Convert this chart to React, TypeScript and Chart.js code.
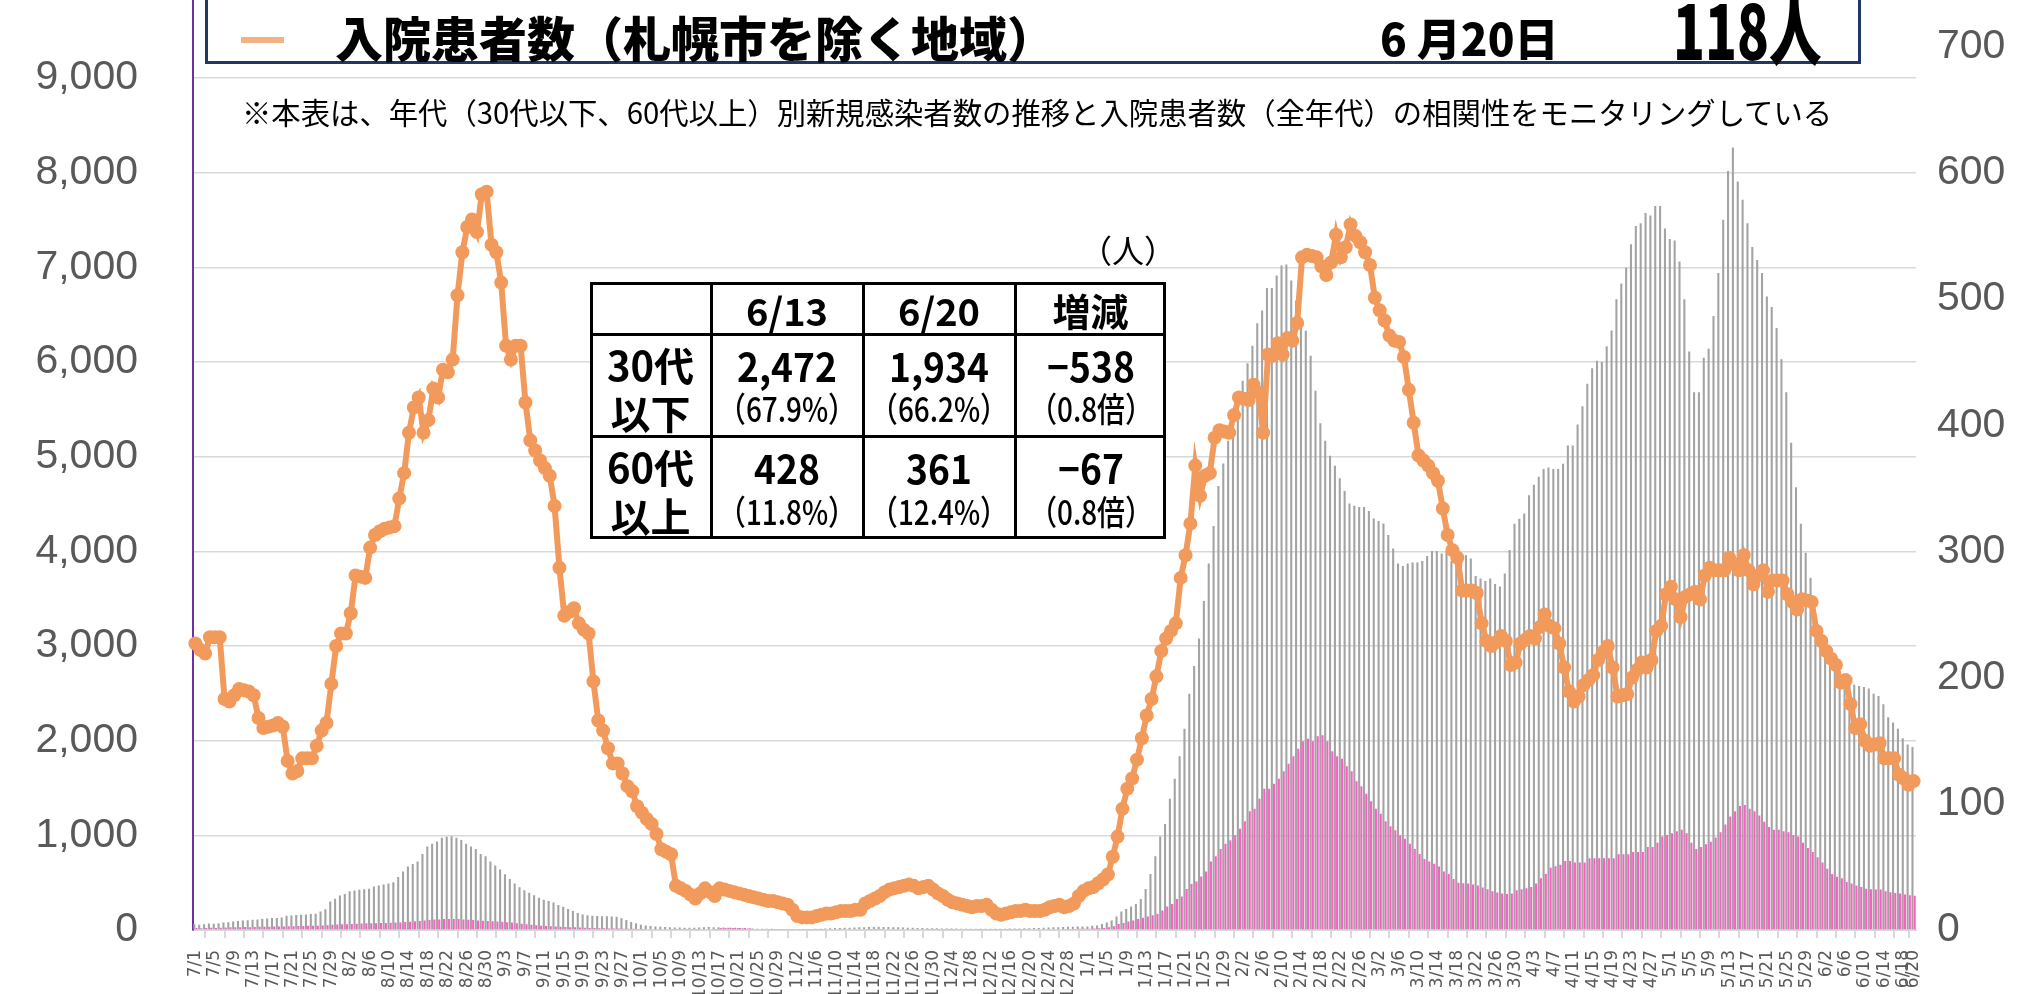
import React, { useEffect, useRef } from "react";
import { Chart, registerables } from "chart.js";

Chart.register(...registerables);

// ---- categories (7/1 .. 6/20) ----
const monthLengths: [number, number][] = [
  [7, 31], [8, 31], [9, 30], [10, 31], [11, 30], [12, 31],
  [1, 31], [2, 28], [3, 31], [4, 30], [5, 31], [6, 20],
];
const categories: string[] = [];
for (const [m, n] of monthLengths) for (let d = 1; d <= n; d++) categories.push(`${m}/${d}`);

// ---- 30代以下 新規感染者数 (left axis) ----
const under30 = [
  // Jul
  60, 55, 62, 68, 65, 72, 78, 82, 90, 95, 100, 104, 108, 112, 118, 122, 126, 128, 132, 150, 152, 158, 160, 164, 168, 172, 195, 220, 300, 330, 365,
  // Aug
  380, 410, 418, 425, 430, 435, 460, 470, 480, 490, 505, 560, 619, 672, 698, 725, 804, 883, 910, 936, 975, 985, 990, 975, 950, 910, 883, 857, 804, 778, 725,
  // Sep
  682, 640, 590, 540, 490, 452, 420, 394, 368, 340, 320, 307, 290, 265, 245, 222, 200, 180, 165, 155, 150, 148, 146, 144, 142, 140, 125, 105, 85, 70,
  // Oct
  55, 48, 42, 38, 34, 31, 29, 27, 26, 25, 24, 25, 27, 29, 31, 30, 28, 26, 24, 22, 20, 18, 16, 15, 14, 13, 12, 12, 11, 10, 10,
  // Nov
  10, 9, 9, 10, 11, 12, 14, 16, 18, 20, 22, 24, 25, 26, 28, 30, 32, 33, 34, 33, 32, 30, 28, 27, 25, 24, 22, 20, 19, 18,
  // Dec
  18, 17, 16, 15, 15, 14, 14, 13, 13, 12, 12, 12, 12, 13, 14, 15, 16, 17, 18, 19, 20, 22, 24, 26, 28, 30, 32, 34, 35, 36, 36,
  // Jan
  38, 45, 48, 63, 79, 100, 143, 196, 222, 249, 275, 328, 434, 592, 778, 989, 1121, 1386, 1598, 1836, 2127, 2497, 2788, 3079, 3476, 3872, 4269, 4692, 4930, 5168, 5406,
  // Feb
  5591, 5803, 5988, 6173, 6411, 6544, 6782, 6782, 6914, 7020, 7030, 6861, 6650, 6464, 6332, 6068, 5697, 5353, 5168, 5010, 4904, 4772, 4639, 4507, 4481, 4470, 4470, 4428,
  // Mar
  4348, 4322, 4295, 4174, 4031, 3872, 3846, 3872, 3883, 3883, 3899, 3952, 4005, 4005, 3978, 4005, 3899, 3978, 3950, 3960, 3925, 3740, 3714, 3687, 3714, 3656, 3628, 3766, 4015, 4291, 4346,
  // Apr
  4401, 4594, 4705, 4788, 4870, 4887, 4870, 4870, 4926, 5119, 5119, 5340, 5533, 5770, 5936, 6013, 6002, 6168, 6334, 6665, 6831, 6996, 7245, 7438, 7466, 7576, 7549, 7648, 7648, 7411,
  // May
  7300, 7284, 7063, 6665, 6113, 5682, 5682, 6047, 6141, 6488, 6941, 7505, 8018, 8266, 7908, 7714, 7466, 7217, 7079, 6941, 6693, 6582, 6361, 6030, 5682, 5147, 4677, 4291, 3987, 3722, 3214,
  // Jun
  3076, 2965, 2910, 2827, 2717, 2634, 2606, 2590, 2579, 2568, 2551, 2496, 2472, 2386, 2247, 2192, 2126, 2027, 1960, 1934,
];

// ---- 60代以上 新規感染者数 (left axis) ----
const over60 = [
  // Jul
  20, 18, 22, 24, 22, 25, 26, 28, 30, 30, 32, 30, 32, 34, 35, 35, 36, 38, 38, 40, 40, 42, 42, 44, 45, 46, 48, 50, 55, 58, 60,
  // Aug
  62, 64, 66, 68, 70, 70, 72, 74, 75, 76, 78, 80, 84, 88, 92, 96, 100, 105, 110, 112, 115, 116, 116, 115, 112, 108, 105, 100, 98, 95, 92,
  // Sep
  90, 86, 82, 78, 72, 66, 60, 55, 50, 46, 42, 40, 36, 34, 32, 30, 28, 26, 24, 22, 20, 19, 18, 17, 16, 15, 14, 13, 12, 11,
  // Oct
  10, 9, 8, 8, 7, 7, 6, 6, 6, 5, 5, 6, 7, 8, 9, 10, 20, 22, 25, 25, 22, 20, 18, 8, 7, 6, 6, 5, 5, 5, 5,
  // Nov
  5, 5, 5, 5, 6, 6, 6, 7, 7, 8, 8, 8, 9, 9, 9, 10, 10, 10, 10, 9, 9, 9, 8, 8, 8, 7, 7, 7, 6, 6,
  // Dec
  6, 6, 6, 5, 5, 5, 5, 5, 5, 5, 5, 5, 5, 5, 5, 6, 6, 6, 6, 7, 7, 7, 8, 8, 9, 9, 10, 10, 11, 12, 12,
  // Jan
  13, 15, 18, 22, 30, 40, 63, 75, 90, 100, 116, 130, 143, 156, 170, 206, 249, 275, 328, 354, 434, 487, 513, 566, 619, 725, 778, 857, 910, 947, 1000,
  // Feb
  1069, 1148, 1254, 1280, 1386, 1492, 1492, 1545, 1598, 1677, 1756, 1836, 1915, 1994, 2021, 1994, 2047, 2058, 1994, 1889, 1836, 1809, 1730, 1677, 1571, 1518, 1439, 1360,
  // Mar
  1280, 1227, 1148, 1095, 1053, 1000, 963, 910, 857, 804, 751, 725, 700, 672, 619, 592, 540, 500, 495, 490, 480, 470, 450, 430, 410, 395, 385, 380, 385, 420, 430,
  // Apr
  440, 455, 491, 547, 591, 657, 674, 690, 729, 729, 712, 712, 712, 757, 757, 757, 757, 757, 757, 800, 800, 800, 823, 823, 823, 878, 878, 922, 988, 1005,
  // May
  1022, 1044, 1060, 1022, 922, 856, 878, 906, 933, 977, 1033, 1115, 1198, 1254, 1309, 1320, 1281, 1254, 1209, 1143, 1088, 1060, 1060, 1044, 1033, 1005, 988, 922, 867, 823, 768,
  // Jun
  712, 646, 591, 563, 547, 508, 491, 469, 453, 436, 430, 428, 428, 410, 400, 392, 385, 375, 368, 361,
];

// ---- 入院患者数（札幌市を除く地域） (right axis) ----
const hospitalized = [
  // Jul
  227, 222, 219, 232, 232, 232, 183, 181, 186, 191, 190, 189, 186, 168, 160, 161, 162, 164, 161, 134, 124, 126, 136, 136, 136, 146, 158, 164, 195, 225, 235,
  // Aug
  235, 251, 281, 280, 279, 303, 313, 316, 318, 319, 320, 342, 362, 394, 414, 422, 394, 404, 429, 422, 444, 442, 452, 503, 537, 557, 563, 553, 583, 585, 543,
  // Sep
  537, 513, 463, 452, 463, 463, 418, 388, 380, 372, 366, 360, 336, 287, 249, 252, 255, 243, 238, 235, 197, 166, 158, 144, 132, 132, 124, 114, 110, 98,
  // Oct
  93, 88, 84, 76, 64, 62, 60, 35, 33, 31, 28, 25, 29, 33, 30, 27, 33, 32, 31, 30, 29, 28, 27, 26, 25, 24, 23, 23, 22, 21, 20,
  // Nov
  16, 11, 10, 10, 10, 11, 12, 13, 13, 14, 15, 15, 15, 16, 16, 21, 23, 25, 27, 30, 32, 33, 34, 35, 36, 35, 33, 34, 35, 32,
  // Dec
  29, 27, 24, 22, 21, 20, 19, 18, 19, 19, 20, 16, 13, 12, 13, 14, 15, 15, 16, 15, 15, 15, 16, 18, 19, 20, 18, 19, 21, 27, 31,
  // Jan
  33, 34, 37, 40, 44, 58, 74, 96, 112, 120, 135, 152, 170, 183, 201, 221, 231, 237, 243, 279, 297, 322, 368, 344, 360, 362, 390, 396, 395, 394, 408,
  // Feb
  422, 421, 420, 432, 426, 394, 456, 455, 465, 456, 469, 467, 481, 533, 535, 534, 533, 526, 519, 529, 551, 533, 541, 559, 550, 545, 537, 527,
  // Mar
  501, 491, 483, 471, 467, 466, 454, 428, 402, 376, 372, 368, 362, 356, 334, 313, 301, 295, 269, 269, 269, 267, 243, 229, 225, 228, 233, 229, 210, 212, 227,
  // Apr
  230, 233, 231, 240, 250, 241, 239, 227, 208, 189, 181, 185, 194, 198, 202, 214, 220, 225, 208, 185, 186, 187, 200, 206, 212, 208, 214, 237, 241, 266,
  // May
  272, 262, 248, 264, 266, 268, 262, 281, 287, 285, 285, 285, 295, 290, 285, 297, 285, 274, 281, 285, 268, 277, 277, 277, 266, 260, 254, 262, 261, 260, 237,
  // Jun
  229, 221, 215, 210, 196, 198, 179, 160, 163, 150, 146, 147, 148, 136, 136, 136, 123, 120, 115, 118,
];

// ---- table contents ----
const tableHeader = ["", "6/13", "6/20", "増減"];
const rowLabels = [["30代", "以下"], ["60代", "以上"]];
const rowValues = [
  [["2,472", "（67.9%）"], ["1,934", "（66.2%）"], ["−538", "（0.8倍）"]],
  [["428", "（11.8%）"], ["361", "（12.4%）"], ["−67", "（0.8倍）"]],
];

const GRAY = "#a3a3a3";
const PINK = "#ff5cc6";
const ORANGE = "#f19a5b";
const LEGEND_ORANGE = "#f4b183";
const TICK = "#595959";
const GRID = "#d9d9d9";
const JP = "'Noto Sans CJK JP', 'Noto Sans CJK SC', sans-serif";

type TxtProps = {
  cx?: number; left?: number; cy: number; size: number; weight?: number;
  scaleX?: number; color?: string; halt?: boolean; children: React.ReactNode;
};
function Txt({ cx, left, cy, size, weight = 700, scaleX = 1, color = "#000", halt = false, children }: TxtProps) {
  const lh = Math.round(size * 1.3);
  const top = cy - lh / 2 - size * 0.06;
  const style: React.CSSProperties = {
    position: "absolute", top, height: lh, lineHeight: lh + "px", fontSize: size,
    fontWeight: weight, fontFamily: JP, color, whiteSpace: "nowrap",
    fontFeatureSettings: halt ? '"halt" 1' : "normal",
  };
  if (cx !== undefined) {
    style.left = cx - 300; style.width = 600; style.textAlign = "center";
    style.transform = `scaleX(${scaleX})`; style.transformOrigin = "center center";
  } else {
    style.left = left; style.transform = `scaleX(${scaleX})`; style.transformOrigin = "left center";
  }
  return <div style={style}>{children}</div>;
}

export default function App() {
  const ref = useRef<HTMLCanvasElement>(null);

  useEffect(() => {
    if (!ref.current) return;
    const last = categories.length - 1;
    const chart = new Chart(ref.current, {
      type: "bar",
      data: {
        labels: categories,
        datasets: [
          {
            type: "line",
            label: "入院患者数（札幌市を除く地域）",
            data: hospitalized,
            yAxisID: "y1",
            borderColor: ORANGE,
            backgroundColor: ORANGE,
            borderWidth: 6,
            pointRadius: 7,
            pointHoverRadius: 7,
            pointBorderWidth: 0,
            pointBackgroundColor: ORANGE,
            tension: 0,
            order: 0,
          } as any,
          {
            type: "bar",
            label: "30代以下",
            data: under30,
            yAxisID: "y",
            backgroundColor: GRAY,
            categoryPercentage: 0.9,
            barPercentage: 0.95,
            order: 1,
          },
          {
            type: "bar",
            label: "60代以上",
            data: over60,
            yAxisID: "y",
            backgroundColor: PINK,
            categoryPercentage: 0.9,
            barPercentage: 0.95,
            order: 2,
          },
        ],
      },
      options: {
        animation: false,
        responsive: false,
        maintainAspectRatio: false,
        devicePixelRatio: 1,
        layout: { padding: { top: 103.5, left: 0, right: 0, bottom: 0 } },
        plugins: { legend: { display: false }, tooltip: { enabled: false } },
        scales: {
          x: {
            offset: true,
            grid: { display: true, drawOnChartArea: false, drawTicks: true, tickLength: 8, color: GRID, lineWidth: 2, offset: true },
            border: { display: true, color: GRID, width: 2 },
            ticks: {
              autoSkip: false, maxRotation: 90, minRotation: 90, padding: 12, color: TICK,
              font: { family: "'DejaVu Sans', sans-serif", size: 17 },
              callback: (_v: any, i: number) => (i % 4 === 0 || i === last ? categories[i] : null),
            },
            afterFit: (s: any) => { s.height = 70; },
          },
          y: {
            position: "left", min: 0, max: 10000,
            grid: { color: GRID, lineWidth: 1.5, drawTicks: true, tickLength: 55, tickColor: "rgba(0,0,0,0)" },
            border: { display: true, color: "#7030a0", width: 2 },
            ticks: {
              stepSize: 1000, padding: 0, color: TICK,
              font: { family: "'Liberation Sans', Arial, sans-serif", size: 41 },
              callback: (v: any) => Number(v).toLocaleString("en-US"),
            },
            afterFit: (s: any) => { s.width = 193; },
          },
          y1: {
            position: "right", min: 0, max: 750,
            grid: { display: true, drawOnChartArea: false, drawTicks: true, tickLength: 21, tickColor: "rgba(0,0,0,0)", color: "rgba(0,0,0,0)" },
            border: { display: false },
            ticks: {
              stepSize: 100, padding: 0, color: TICK,
              font: { family: "'Liberation Sans', Arial, sans-serif", size: 41 },
              callback: (v: any) => (Number(v) % 100 === 0 ? String(v) : null),
            },
            afterFit: (s: any) => { s.width = 123; },
          },
        },
      } as any,
    });
    return () => chart.destroy();
  }, []);

  // table geometry
  const colX = [590, 711, 863, 1015, 1166];
  const rowY = [282, 334, 436, 539];
  const colC = (c: number) => (colX[c] + colX[c + 1]) / 2;

  return (
    <div style={{ position: "fixed", left: 0, top: 0, width: 2039, height: 994, overflow: "hidden", background: "#fff" }}>
      <canvas ref={ref} width={2039} height={1120} style={{ position: "absolute", left: 0, top: -120, width: 2039, height: 1120 }} />

      {/* legend box (upper part cut off) */}
      <div style={{ position: "absolute", left: 205, top: -60, width: 1861 - 205, height: 64 + 60, border: "3px solid #203864", boxSizing: "border-box", background: "#fff" }} />
      <div style={{ position: "absolute", left: 241, top: 37, width: 43, height: 6, background: LEGEND_ORANGE }} />
      <Txt left={335} cy={39} size={48} weight={900}>入院患者数（札幌市を除く地域）</Txt>
      <Txt left={1380} cy={40} size={44} weight={900}>6 月20日</Txt>
      <Txt left={1673} cy={32} size={75} weight={900} scaleX={0.7}>118人</Txt>

      {/* note */}
      <Txt left={242} cy={113} size={29.35} weight={400}>※本表は、年代（30代以下、60代以上）別新規感染者数の推移と入院患者数（全年代）の相関性をモニタリングしている</Txt>

      {/* unit */}
      <Txt cx={1128} cy={251} size={32} weight={400}>（人）</Txt>

      {/* table */}
      <div style={{ position: "absolute", left: colX[0], top: rowY[0], width: colX[4] - colX[0], height: rowY[3] - rowY[0], background: "#fff", border: "3px solid #000", boxSizing: "border-box" }} />
      {colX.slice(1, 4).map((x, i) => (
        <div key={"v" + i} style={{ position: "absolute", left: x - 1.5, top: rowY[0], width: 3, height: rowY[3] - rowY[0], background: "#000" }} />
      ))}
      {rowY.slice(1, 3).map((y, i) => (
        <div key={"h" + i} style={{ position: "absolute", left: colX[0], top: y - 1.5, width: colX[4] - colX[0], height: 3, background: "#000" }} />
      ))}
      {tableHeader.map((h, c) => h ? <Txt key={"th" + c} cx={colC(c)} cy={312} size={38}>{h}</Txt> : null)}
      {rowLabels.map((lines, r) => (
        <React.Fragment key={"rl" + r}>
          <Txt cx={colC(0)} cy={r === 0 ? 366 : 468} size={40}>{lines[0]}</Txt>
          <Txt cx={colC(0)} cy={r === 0 ? 414 : 517} size={40}>{lines[1]}</Txt>
        </React.Fragment>
      ))}
      {rowValues.map((row, r) => row.map((cell, c) => (
        <React.Fragment key={"cv" + r + c}>
          <Txt cx={colC(c + 1)} cy={r === 0 ? 367 : 469} size={40} scaleX={0.93}>{cell[0]}</Txt>
          <Txt cx={colC(c + 1)} cy={r === 0 ? 410 : 513} size={34} weight={500} scaleX={0.82} halt>{cell[1]}</Txt>
        </React.Fragment>
      )))}
    </div>
  );
}
